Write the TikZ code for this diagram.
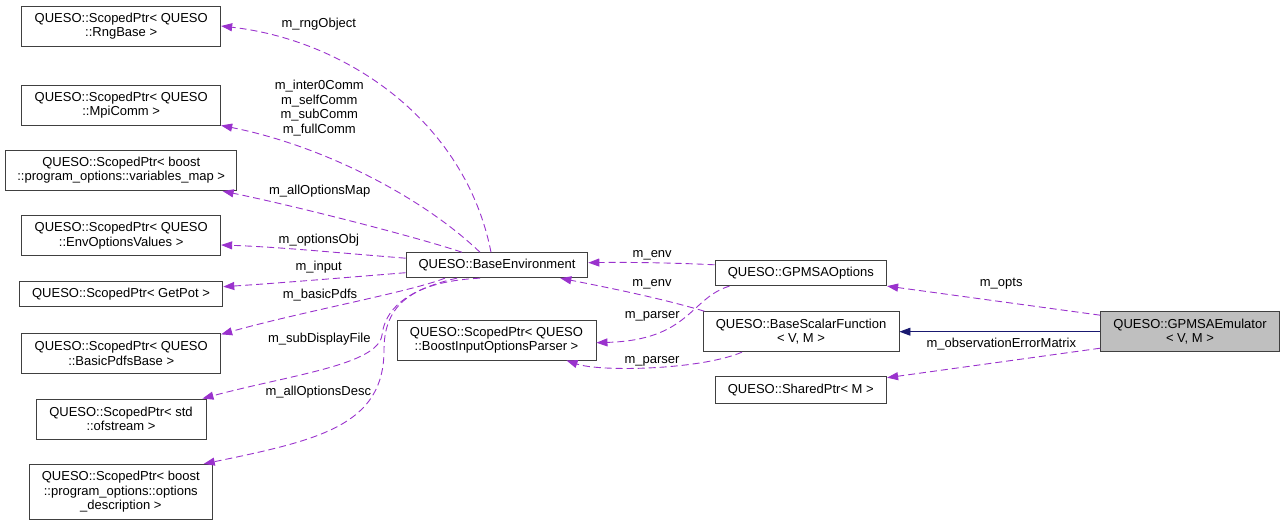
\documentclass[tikz,border=0pt]{standalone}
\usepackage{fontspec}
\setmainfont{Liberation Sans}
\usetikzlibrary{arrows.meta}
\definecolor{purp}{HTML}{9A32CD}
\definecolor{navy}{HTML}{191970}
\definecolor{boxline}{HTML}{404040}
\definecolor{emufill}{HTML}{BFBFBF}
\tikzset{
  box/.style={draw=boxline, line width=0.9pt, fill=white, align=center, inner sep=0pt,
    font=\fontsize{13}{14.5}\selectfont},
  lab/.style={align=center, inner sep=0pt, font=\fontsize{13}{14.5}\selectfont},
  ref/.style={draw=purp, line width=0.9pt, dash pattern=on 7pt off 4pt,
    -{Triangle[length=11pt,width=8pt]}},
  inh/.style={draw=navy, line width=0.9pt, -{Triangle[length=11pt,width=8pt]}}
}
\begin{document}
\begin{tikzpicture}[x=1pt,y=-1pt]
\useasboundingbox (0,0) rectangle (1285,525);
% nodes
\node[box, minimum width=199pt, minimum height=40pt] (rng) at (121.2,26) {QUESO::ScopedPtr< QUESO\\::RngBase >};
\node[box, minimum width=199pt, minimum height=40pt] (mpi) at (121.2,105) {QUESO::ScopedPtr< QUESO\\::MpiComm >};
\node[box, minimum width=231pt, minimum height=40.7pt] (vmap) at (121.2,170.3) {QUESO::ScopedPtr< boost\\::program\_options::variables\_map >};
\node[box, minimum width=199pt, minimum height=40pt] (envopt) at (121.2,235.7) {QUESO::ScopedPtr< QUESO\\::EnvOptionsValues >};
\node[box, minimum width=203.7pt, minimum height=25pt] (getpot) at (121,294.2) {QUESO::ScopedPtr< GetPot >};
\node[box, minimum width=199pt, minimum height=40pt] (pdfs) at (121.2,353.3) {QUESO::ScopedPtr< QUESO\\::BasicPdfsBase >};
\node[box, minimum width=170pt, minimum height=40pt] (ofs) at (121,419) {QUESO::ScopedPtr< std\\::ofstream >};
\node[box, minimum width=183pt, minimum height=55pt] (odesc) at (120.8,491.8) {QUESO::ScopedPtr< boost\\::program\_options::options\\\_description >};
\node[box, minimum width=181.7pt, minimum height=25pt] (benv) at (497,265.2) {QUESO::BaseEnvironment};
\node[box, minimum width=199pt, minimum height=40pt] (parser) at (496.5,340) {QUESO::ScopedPtr< QUESO\\::BoostInputOptionsParser >};
\node[box, minimum width=171.7pt, minimum height=25.7pt] (gopts) at (800.8,272.8) {QUESO::GPMSAOptions};
\node[box, minimum width=196pt, minimum height=40pt] (bsf) at (801,331.7) {QUESO::BaseScalarFunction\\< V, M >};
\node[box, minimum width=171.7pt, minimum height=26.7pt] (shared) at (800.8,390) {QUESO::SharedPtr< M >};
\node[box, fill=emufill, minimum width=178.6pt, minimum height=40pt] (emu) at (1190,331.7) {QUESO::GPMSAEmulator\\< V, M >};
% edges from BaseEnvironment
\draw[ref] ([xshift=-6pt]benv.north) .. controls (465,120) and (345,40) .. (rng.east);
\draw[ref] ([xshift=-17pt]benv.north) .. controls (420,195) and (320,145) .. (mpi.south east);
\draw[ref] ([xshift=-35pt]benv.north) .. controls (420,238) and (300,207) .. ([xshift=-14.5pt]vmap.south east);
\draw[ref] ([yshift=7pt]benv.west) .. controls (340,253) and (280,247) .. ([yshift=-9.3pt]envopt.east);
\draw[ref] ([yshift=-7.5pt]benv.west) .. controls (340,278) and (280,283) .. ([yshift=7.5pt]getpot.east);
\draw[ref] ([xshift=-52pt]benv.south) .. controls (410,292) and (300,312) .. ([yshift=-1.5pt]pdfs.north east);
\draw[ref] ([xshift=-40pt]benv.south) .. controls (405,290) and (385,310) .. (382,335) .. controls (378,365) and (290,375) .. ([xshift=-4pt]ofs.north east);
\draw[ref] ([xshift=-17pt]benv.south) .. controls (405,282) and (384,310) .. (384,350) .. controls (384,425) and (320,440) .. ([xshift=-9pt]odesc.north east);
% middle edges
\draw[ref] ([yshift=8pt]gopts.west) .. controls (680,263) and (630,262) .. ([yshift=2.5pt]benv.east);
\draw[ref] ([xshift=2pt]bsf.north west) .. controls (660,298) and (610,288) .. ([xshift=-28pt]benv.south east);
\draw[ref] ([xshift=15pt]gopts.south west) .. controls (690,298) and (690,340) .. ([yshift=-2.7pt]parser.east);
\draw[ref] ([xshift=-59pt]bsf.south) .. controls (700,370) and (600,372) .. ([xshift=70pt]parser.south);
% edges from emulator
\draw[ref] ([yshift=16.5pt]emu.west) -- (gopts.south east);
\draw[inh] (emu.west) -- (bsf.east);
\draw[ref] ([yshift=-16.5pt]emu.west) -- ([yshift=-1.5pt]shared.north east);
% labels
\node[lab] (l1) at (318.8,24.5) {m\_rngObject};
\node[lab] (l2) at (319.3,108) {m\_inter0Comm\\m\_selfComm\\m\_subComm\\m\_fullComm};
\node[lab] (l3) at (319.7,191.2) {m\_allOptionsMap};
\node[lab] (l4) at (318.8,240) {m\_optionsObj};
\node[lab] (l5) at (318.7,267.2) {m\_input};
\node[lab] (l6) at (320,295.5) {m\_basicPdfs};
\node[lab] (l7) at (319.3,339.5) {m\_subDisplayFile};
\node[lab] (l8) at (318.3,392.2) {m\_allOptionsDesc};
\node[lab] (l9) at (652.2,255.5) {m\_env};
\node[lab] (l10) at (652,283.8) {m\_env};
\node[lab] (l11) at (652.3,316.5) {m\_parser};
\node[lab] (l12) at (652,361.2) {m\_parser};
\node[lab] (l13) at (1001.2,283.2) {m\_opts};
\node[lab] (l14) at (1001.3,343.8) {m\_observationErrorMatrix};
\end{tikzpicture}
\end{document}
